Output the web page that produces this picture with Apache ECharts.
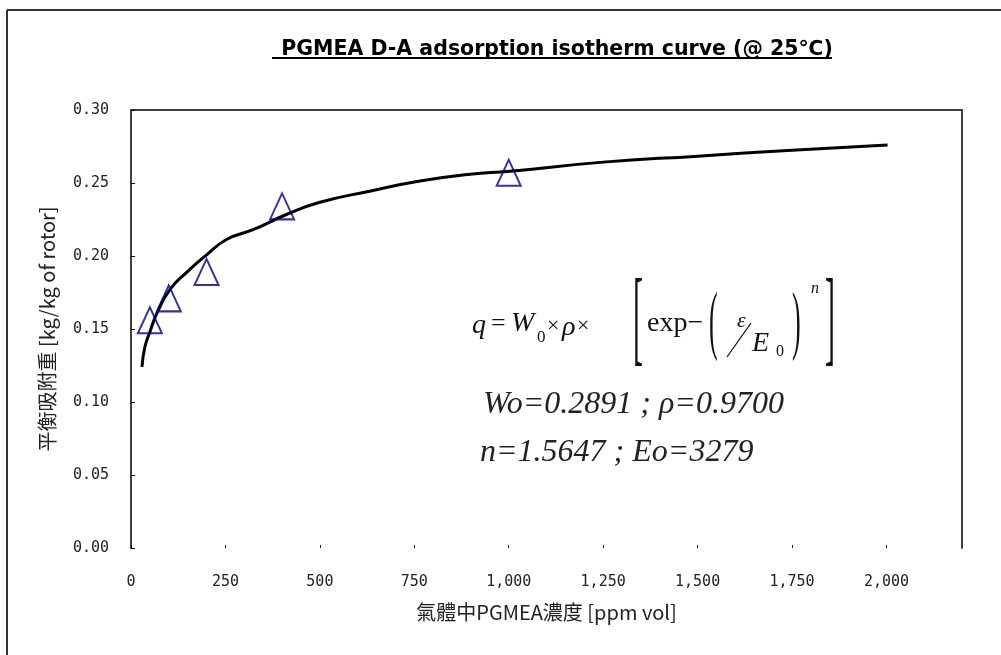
<!DOCTYPE html>
<html>
<head>
<meta charset="utf-8">
<script src="https://cdn.jsdelivr.net/npm/echarts@6/dist/echarts.min.js"></script>
<style>
html,body{margin:0;padding:0;background:#fff;}
#chart{width:1001px;height:655px;}
</style>
</head>
<body>
<div id="chart"></div>
<script>
// ---- data ----
const titleText = 'PGMEA D-A adsorption isotherm curve (@ 25\u2103)';
const xAxisName = '氣體中PGMEA濃度 [ppm vol]';
const yAxisName = '平衡吸附重 [kg/kg of rotor]';
const xTickValues = [0, 250, 500, 750, 1000, 1250, 1500, 1750, 2000];
const yTickValues = [0, 0.05, 0.10, 0.15, 0.20, 0.25, 0.30];
// measured points (triangles)
const measX = [50, 100, 200, 400, 1000];
const measY = [0.156, 0.171, 0.189, 0.234, 0.257];
// fitted D-A curve
const curveX = [29, 37, 50, 69, 103, 148, 201, 254, 323, 413, 500, 632, 765, 897, 1003, 1250, 1500, 1750, 2003];
const curveY = [0.124, 0.138, 0.148, 0.161, 0.177, 0.189, 0.201, 0.2115, 0.218, 0.2286, 0.2368, 0.2444, 0.2513, 0.256, 0.258, 0.2643, 0.2684, 0.2725, 0.276];
const fitLine1 = 'Wo=0.2891 ; \u03c1=0.9700';
const fitLine2 = 'n=1.5647 ; Eo=3279';

const chart = echarts.init(document.getElementById('chart'));
const axisColor = '#404040';
const monoFont = '"DejaVu Sans Mono", "Liberation Mono", monospace';
const serif = '"Liberation Serif", "DejaVu Serif", serif';
const cjk = '"Noto Sans CJK TC", "Noto Sans CJK SC", sans-serif';

const fmtX = v => v >= 1000 ? Math.floor(v / 1000) + ',' + String(v % 1000).padStart(3, '0') : String(v);

function txt(x, y, text, font, extra, fill) {
  return Object.assign({ type: 'text', x: x, y: y,
    style: { text: text, font: font, fill: fill || '#111', textVerticalAlign: 'middle' } }, extra || {});
}

const option = {
  animation: false,
  backgroundColor: '#fff',
  title: {
    text: titleText,
    left: 552, top: 34, textAlign: 'center',
    textStyle: { fontFamily: '"DejaVu Sans", sans-serif', fontWeight: 'bold', fontSize: 20.5, color: '#000' }
  },
  grid: { left: 131, top: 110, right: 39, bottom: 107, containLabel: false },
  xAxis: [{
    type: 'value', min: 0, max: 2200, interval: 250,
    axisLine: { show: false },
    axisTick: { show: true, inside: true, length: 3, customValues: xTickValues, lineStyle: { color: '#000', width: 1 } },
    axisLabel: { customValues: xTickValues, formatter: fmtX, margin: 27, fontFamily: monoFont, fontSize: 15, color: '#222' },
    splitLine: { show: false },
    name: xAxisName, nameLocation: 'middle', nameGap: 54,
    nameTextStyle: { fontFamily: cjk, fontSize: 20, color: '#222', align: 'center' }
  }, {
    type: 'value', position: 'top', min: 0, max: 2200,
    axisLine: { show: true, onZero: false, lineStyle: { color: axisColor, width: 2 } },
    axisTick: { show: false }, axisLabel: { show: false }, splitLine: { show: false }
  }],
  yAxis: [{
    type: 'value', min: 0, max: 0.3, interval: 0.05,
    axisLine: { show: true, onZero: false, lineStyle: { color: axisColor, width: 2 } },
    axisTick: { show: true, inside: true, length: 4, lineStyle: { color: '#000', width: 1 } },
    axisLabel: { formatter: v => v.toFixed(2), margin: 22, fontFamily: monoFont, fontSize: 15, color: '#222' },
    splitLine: { show: false },
    name: yAxisName, nameLocation: 'middle', nameGap: 74, nameRotate: 90,
    nameTextStyle: { fontFamily: cjk, fontSize: 20, color: '#222' }
  }, {
    type: 'value', position: 'right', min: 0, max: 0.3,
    axisLine: { show: true, onZero: false, lineStyle: { color: axisColor, width: 2 } },
    axisTick: { show: false }, axisLabel: { show: false }, splitLine: { show: false }
  }],
  series: [{
    type: 'line', name: 'fit', smooth: true, showSymbol: false, symbol: 'none',
    data: curveX.map((x, i) => [x, curveY[i]]),
    lineStyle: { color: '#000', width: 3 }, z: 2
  }, {
    type: 'scatter', name: 'measured', symbol: 'triangle', symbolSize: [24, 26],
    data: measX.map((x, i) => [x, measY[i]]),
    itemStyle: { color: 'rgba(0,0,0,0)', borderColor: '#000080', borderWidth: 2 }, z: 3
  }],
  graphic: [
    // outer frame (left + top edges)
    { type: 'line', shape: { x1: 7, y1: 10, x2: 1001, y2: 10 }, style: { stroke: '#333', lineWidth: 2 } },
    { type: 'line', shape: { x1: 7, y1: 10, x2: 7, y2: 655 }, style: { stroke: '#333', lineWidth: 2 } },
    // title underline
    { type: 'line', shape: { x1: 272, y1: 58, x2: 832, y2: 58 }, style: { stroke: '#000', lineWidth: 2 } },
    // formula  q = W0 x rho x [exp-(eps/E0)^n]
    txt(472, 326, 'q', 'italic 28px ' + serif),
    txt(491, 324, '=', '26px ' + serif),
    txt(511, 324, 'W', 'italic 28px ' + serif),
    txt(537, 338, '0', '17px ' + serif),
    txt(547, 326, '\u00d7', '22px ' + serif),
    txt(562, 328, '\u03c1', 'italic 28px ' + serif),
    txt(577, 326, '\u00d7', '22px ' + serif),
    txt(633, 324, '[', '30px ' + serif, { scaleY: 3.5 }),
    txt(647, 324, 'exp\u2212', '28px ' + serif),
    txt(709, 325, '(', '26px ' + serif, { scaleY: 2.9 }),
    txt(737, 321, '\u03b5', 'italic 22px ' + serif),
    { type: 'line', shape: { x1: 727, y1: 357, x2: 751, y2: 323 }, style: { stroke: '#111', lineWidth: 1.3 } },
    txt(752, 344, 'E', 'italic 28px ' + serif),
    txt(776, 352, '0', '16px ' + serif),
    txt(792, 325, ')', '26px ' + serif, { scaleY: 2.9 }),
    txt(811, 289, 'n', 'italic 16px ' + serif),
    txt(825, 324, ']', '30px ' + serif, { scaleY: 3.5 }),
    // fitted parameters
    txt(483, 405, fitLine1, 'italic 32px ' + serif, null, '#222'),
    txt(480, 453, fitLine2, 'italic 32px ' + serif, null, '#222')
  ]
};
chart.setOption(option);
</script>
</body>
</html>
